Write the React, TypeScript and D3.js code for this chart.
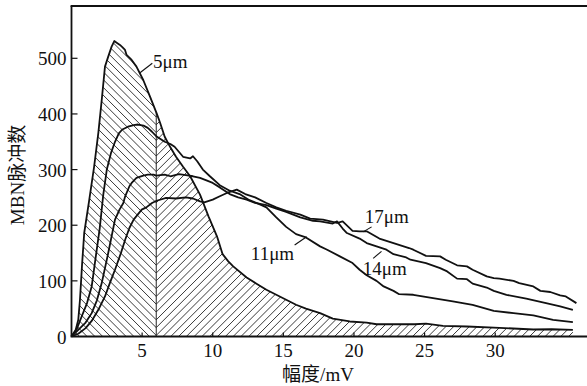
import React from 'react';
import * as d3 from 'd3';

type P = [number, number];

// amplitude (mV), MBN pulse count
const curve5um: P[] = [
  [0, 0], [0.3, 12], [0.48, 30], [0.6, 66], [0.75, 130], [0.9, 186], [1.26, 246], [1.6, 305], [1.9, 366],
  [2.14, 425], [2.37, 485], [2.6, 503], [2.84, 521], [3.03, 531], [3.2, 528], [3.43, 524], [3.6, 520],
  [3.79, 515], [3.9, 506], [4.26, 497], [4.6, 485], [5.08, 461], [5.56, 431], [6.03, 401], [6.26, 385],
  [6.6, 359], [7.0, 340], [7.4, 323], [7.9, 305], [8.4, 288], [9.1, 255], [9.7, 216], [10.3, 180],
  [10.7, 148], [11.1, 135], [11.45, 126], [12.4, 106], [13.1, 95], [13.8, 84], [14.5, 75], [15.2, 66],
  [15.9, 57], [16.6, 50], [17.6, 42], [18.5, 32], [19.7, 27], [20.9, 25], [21.6, 22], [23.2, 22],
  [24.3, 22], [25.1, 23], [26.3, 19], [28, 18], [30.3, 15.6], [32.7, 12.6], [34, 13], [35.5, 12],
];

const curve11um: P[] = [
  [0, 0], [0.35, 12], [0.72, 36], [1.1, 60], [1.43, 90], [1.7, 140], [2.0, 195], [2.25, 255], [2.5, 300],
  [2.8, 330], [3.08, 350], [3.35, 365], [3.6, 372], [4.0, 377], [4.4, 380], [4.7, 381], [5.1, 379],
  [5.4, 375], [5.7, 368], [6.0, 360], [6.6, 350], [7.0, 346], [7.3, 341], [7.9, 323], [8.4, 320],
  [8.6, 324], [8.9, 315], [9.3, 300], [9.8, 288], [10.5, 272], [11.2, 262], [11.9, 256], [12.6, 245],
  [13.3, 238], [13.8, 232], [14.5, 214], [15.2, 197], [15.9, 184], [16.6, 178], [17.6, 162], [18.1, 156],
  [19.0, 144], [19.9, 132], [20.4, 120], [20.9, 110], [21.6, 100], [22.1, 90], [22.8, 82], [23.2, 76],
  [24.2, 75], [25.6, 69], [27, 63], [28.4, 57], [29.9, 46], [31.3, 42], [32.7, 38], [34.1, 30], [35.5, 26],
];

const curve14um: P[] = [
  [0, 0], [0.48, 12], [1.0, 25], [1.43, 42], [1.8, 65], [2.14, 96], [2.6, 150], [3.08, 210], [3.4, 228],
  [3.67, 240], [3.8, 252], [4.1, 270], [4.26, 276], [4.6, 285], [5.08, 289], [5.4, 291], [5.8, 291],
  [6.0, 289], [6.6, 291], [7.0, 288], [7.6, 292], [8.1, 290], [8.6, 288], [9.1, 285], [9.6, 280],
  [10.0, 276], [10.5, 268], [11.2, 256], [11.8, 250], [12.4, 246], [13.0, 240], [13.8, 236], [14.5, 230],
  [15.2, 224], [16.2, 214], [17.1, 208], [17.6, 207], [18.5, 203], [18.8, 207], [19.2, 194], [19.5, 186],
  [20.4, 176], [20.9, 168], [21.6, 162], [22.3, 156], [22.8, 148], [23.7, 142], [24, 138], [25.1, 132],
  [26.1, 123], [26.6, 117], [27.3, 104], [28, 103], [28.4, 95], [29.4, 88], [29.9, 82], [30.8, 75],
  [32.2, 68], [33.6, 60], [34.6, 54], [35.5, 48],
];

const curve17um: P[] = [
  [0, 0], [0.48, 5], [1.0, 15], [1.43, 28], [1.9, 48], [2.37, 72], [2.7, 95], [3.08, 120], [3.5, 150],
  [3.8, 174], [4.1, 195], [4.4, 210], [4.97, 228], [5.3, 232], [5.7, 240], [6.03, 244], [6.7, 249],
  [7.4, 248], [8.1, 250], [8.6, 248], [9.1, 243], [9.4, 241], [10, 246], [10.5, 252], [11, 258],
  [11.7, 264], [12.3, 256], [13, 250], [13.8, 240], [14.5, 232], [15.2, 226], [16.2, 219], [16.9, 212],
  [17.8, 210], [18.8, 204], [19.2, 207], [19.9, 190], [20.4, 189], [20.9, 189], [21.8, 176], [22.8, 168],
  [23.9, 159], [24.2, 156], [25.1, 145], [26.1, 144], [26.5, 138], [27.3, 128], [28, 126], [28.4, 120],
  [29.4, 108], [29.9, 105], [30.3, 104], [31.3, 100], [31.7, 96], [32.7, 90], [33.2, 82], [33.9, 80],
  [34.6, 74], [35.0, 72], [35.75, 60],
];

const xTicks = [5, 10, 15, 20, 25, 30];
const yTicks = [0, 100, 200, 300, 400, 500];
const splitAmp = 6;

const annotations = [
  { text: '5μm', tx: 5.77, ty: 483, from: [4.85, 474] as P, to: [5.72, 491] as P },
  { text: '17μm', tx: 20.77, ty: 204, from: [20.65, 188] as P, to: [21.25, 197] as P },
  { text: '14μm', tx: 20.63, ty: 110.5, from: [21.95, 153] as P, to: [21.36, 140.5] as P },
  { text: '11μm', tx: 12.7, ty: 137.5, from: [16.65, 179.4] as P, to: [15.8, 164.5] as P },
];

const xTitle = '幅度/mV';
const yTitle = 'MBN脉冲数';

const FONT = "'Liberation Serif', 'Times New Roman', 'Noto Sans CJK SC', serif";

export default function App() {
  const W = 587, H = 386;
  const x = d3.scaleLinear().domain([0, 36.5]).range([71.5, 587]);
  const y = d3.scaleLinear().domain([0, 594]).range([336.5, 6]);
  const line = d3.line<P>().x(d => x(d[0])).y(d => y(d[1]));
  const area = d3.area<P>().x(d => x(d[0])).y0(y(0)).y1(d => y(d[1]));

  const xs = x(splitAmp);
  const x0 = x(0), x1 = x(36.5);
  const s = 7.8;
  const hatch: string[] = [];
  for (let k = -5; k < 150; k++) {
    const c = k * s;
    hatch.push(`M${x0},${c + (x0 - xs)}L${xs},${c}`);
    hatch.push(`M${xs},${c}L${x1},${c - (x1 - xs)}`);
  }
  const bis = d3.bisector((d: P) => d[0]).left;
  const i = bis(curve5um, splitAmp);
  const a = curve5um[i - 1], b = curve5um[i];
  const splitVal = a[1] + (b[1] - a[1]) * (splitAmp - a[0]) / (b[0] - a[0]);

  const curves = [curve5um, curve11um, curve14um, curve17um];

  return (
    <svg width={W} height={H} style={{ position: 'absolute', left: 0, top: 0, background: '#fff' }}
      fontFamily={FONT}>
      <rect width={W} height={H} fill="#fff" />
      <defs>
        <clipPath id="hatchClip">
          <path d={area(curve5um) || ''} />
        </clipPath>
      </defs>
      <g clipPath="url(#hatchClip)">
        <path d={hatch.join('')} stroke="#222" strokeWidth={0.9} fill="none" />
      </g>
      <line x1={xs} x2={xs} y1={y(0)} y2={y(splitVal)} stroke="#222" strokeWidth={1} />
      {curves.map((c, idx) => (
        <path key={idx} d={line(c) || ''} fill="none" stroke="#111" strokeWidth={1.8} strokeLinejoin="round" />
      ))}
      {/* frame */}
      <line x1={x0} x2={x0} y1={y(594)} y2={y(0)} stroke="#111" strokeWidth={1.8} />
      <line x1={x0 - 0.9} x2={x1} y1={y(0)} y2={y(0)} stroke="#111" strokeWidth={1.8} />
      <line x1={x0 - 0.9} x2={x1} y1={y(594)} y2={y(594)} stroke="#111" strokeWidth={1.8} />
      {yTicks.map(t => (
        <g key={t}>
          {t > 0 && <line x1={x0} x2={x0 + 6} y1={y(t)} y2={y(t)} stroke="#111" strokeWidth={1.2} />}
          <text x={x0 - 5} y={y(t) + 7} textAnchor="end" fontSize={19} fill="#111">{t}</text>
        </g>
      ))}
      {xTicks.map(t => (
        <g key={t}>
          <line x1={x(t)} x2={x(t)} y1={y(0)} y2={y(0) - 4} stroke="#111" strokeWidth={1.2} />
          <text x={x(t)} y={357} textAnchor="middle" fontSize={19} fill="#111">{t}</text>
        </g>
      ))}
      {annotations.map(an => (
        <g key={an.text}>
          <line x1={x(an.from[0])} y1={y(an.from[1])} x2={x(an.to[0])} y2={y(an.to[1])} stroke="#111" strokeWidth={1.1} />
          <text x={x(an.tx)} y={y(an.ty)} fontSize={19} fill="#111">{an.text}</text>
        </g>
      ))}
      <text x={318} y={381} textAnchor="middle" fontSize={19} fill="#111">{xTitle}</text>
      <text transform="translate(24,175) rotate(-90)" textAnchor="middle" fontSize={19} fill="#111">{yTitle}</text>
    </svg>
  );
}
